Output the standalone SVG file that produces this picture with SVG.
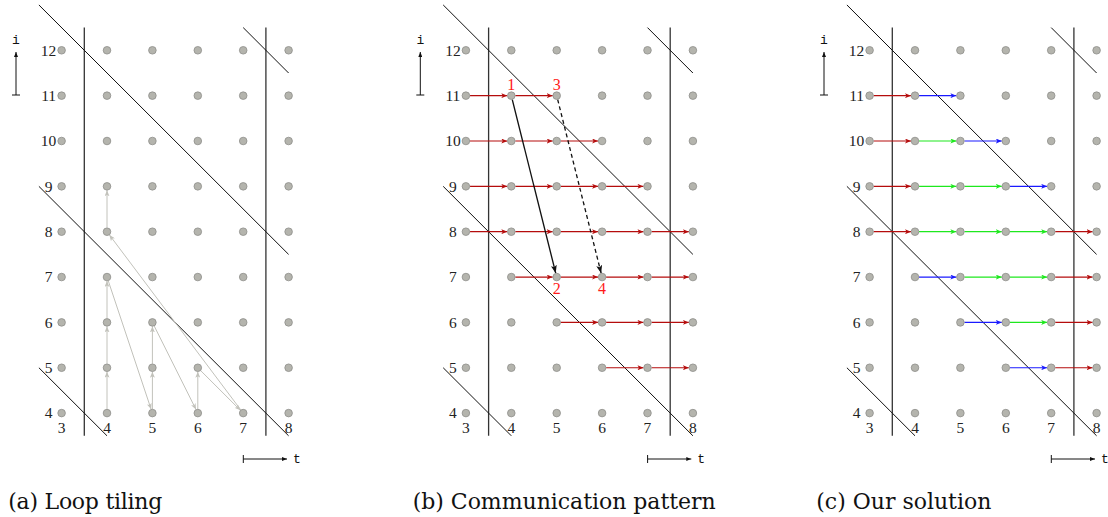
<svg xmlns="http://www.w3.org/2000/svg" xmlns:xlink="http://www.w3.org/1999/xlink" width="1108" height="517" viewBox="0 0 1108 517">
<style>
.dot{fill:#b4b4ad;stroke:#8e8e8a;stroke-width:0.8}
.num{font-family:"Liberation Serif","Times New Roman",serif;font-size:15.5px;fill:#222;text-anchor:middle}
.lab{font-family:"Liberation Serif","Times New Roman",serif;font-size:16px;fill:#ff1a1a;text-anchor:middle}
.mono{font-family:"Liberation Mono","Courier New",monospace;font-size:13px;fill:#111}
.cap{font-family:"DejaVu Serif","Liberation Serif",serif;font-size:22px;fill:#111}
.bnd{stroke:#111;stroke-width:1;fill:none}
.vb{stroke:#333;stroke-width:1.3;fill:none}
.ax{stroke:#111;stroke-width:1;fill:none}
.g{stroke:#c2c2bb;stroke-width:1;fill:none;marker-end:url(#mg)}
.r{stroke:#b50d0d;stroke-width:1.2;fill:none;marker-end:url(#mr)}
.gr{stroke:#1ee81e;stroke-width:1.2;fill:none;marker-end:url(#mgr)}
.bl{stroke:#1a1aff;stroke-width:1.2;fill:none;marker-end:url(#mb)}
.k{stroke:#111;stroke-width:1.3;fill:none;marker-end:url(#mk)}
.kd{stroke:#111;stroke-width:1.3;fill:none;stroke-dasharray:4,3;marker-end:url(#mk)}
</style>
<defs>
<marker id="mg" viewBox="0 0 6 5" refX="6" refY="2.5" markerWidth="6" markerHeight="5" markerUnits="userSpaceOnUse" orient="auto"><path d="M0,0 L6,2.5 L0,5 L1.5,2.5 z" fill="#c2c2bb"/></marker>
<marker id="mr" viewBox="0 0 6 5" refX="6" refY="2.5" markerWidth="6" markerHeight="5" markerUnits="userSpaceOnUse" orient="auto"><path d="M0,0 L6,2.5 L0,5 L1.5,2.5 z" fill="#b50d0d"/></marker>
<marker id="mgr" viewBox="0 0 6 5" refX="6" refY="2.5" markerWidth="6" markerHeight="5" markerUnits="userSpaceOnUse" orient="auto"><path d="M0,0 L6,2.5 L0,5 L1.5,2.5 z" fill="#1ee81e"/></marker>
<marker id="mb" viewBox="0 0 6 5" refX="6" refY="2.5" markerWidth="6" markerHeight="5" markerUnits="userSpaceOnUse" orient="auto"><path d="M0,0 L6,2.5 L0,5 L1.5,2.5 z" fill="#1a1aff"/></marker>
<marker id="mk" viewBox="0 0 8 6" refX="8" refY="3" markerWidth="8" markerHeight="6" markerUnits="userSpaceOnUse" orient="auto"><path d="M0,0 L8,3 L0,6 L2,3 z" fill="#111"/></marker>
<marker id="ma" viewBox="0 0 5 4" refX="5" refY="2" markerWidth="5" markerHeight="4" markerUnits="userSpaceOnUse" orient="auto"><path d="M0,0 L5,2 L0,4 z" fill="#111"/></marker>
<g id="frame">
<line class="vb" x1="84.3" y1="27.6" x2="84.3" y2="435.8"/>
<line class="vb" x1="265.9" y1="27.6" x2="265.9" y2="435.8"/>
<line class="bnd" x1="38.9" y1="4.95" x2="288.6" y2="254.4"/>
<line class="bnd" x1="38.9" y1="186.35" x2="288.6" y2="435.8"/>
<line class="bnd" x1="38.9" y1="367.75" x2="107" y2="435.8"/>
<line class="bnd" x1="243.2" y1="27.6" x2="288.6" y2="73"/>
<line class="ax" x1="16" y1="95" x2="16" y2="52" marker-end="url(#ma)"/>
<line class="ax" x1="12" y1="95" x2="20" y2="95"/>
<text class="mono" x="16" y="44" text-anchor="middle">i</text>
<line class="ax" x1="243.3" y1="459" x2="287" y2="459" marker-end="url(#ma)"/>
<line class="ax" x1="243.3" y1="455" x2="243.3" y2="463"/>
<text class="mono" x="293" y="463">t</text>
<text class="num" x="48.6" y="55.6">12</text>
<text class="num" x="48.6" y="101">11</text>
<text class="num" x="48.6" y="146.3">10</text>
<text class="num" x="48.6" y="191.6">9</text>
<text class="num" x="48.6" y="237">8</text>
<text class="num" x="48.6" y="282.3">7</text>
<text class="num" x="48.6" y="327.7">6</text>
<text class="num" x="48.6" y="373">5</text>
<text class="num" x="48.6" y="418.4">4</text>
<text class="num" x="61.6" y="432.6">3</text>
<text class="num" x="107" y="432.6">4</text>
<text class="num" x="152.4" y="432.6">5</text>
<text class="num" x="197.8" y="432.6">6</text>
<text class="num" x="243.2" y="432.6">7</text>
<text class="num" x="288.6" y="432.6">8</text>
</g>
<g id="dots">
<circle class="dot" cx="61.6" cy="50.3" r="3.8"/><circle class="dot" cx="107" cy="50.3" r="3.8"/><circle class="dot" cx="152.4" cy="50.3" r="3.8"/><circle class="dot" cx="197.8" cy="50.3" r="3.8"/><circle class="dot" cx="243.2" cy="50.3" r="3.8"/><circle class="dot" cx="288.6" cy="50.3" r="3.8"/>
<circle class="dot" cx="61.6" cy="95.65" r="3.8"/><circle class="dot" cx="107" cy="95.65" r="3.8"/><circle class="dot" cx="152.4" cy="95.65" r="3.8"/><circle class="dot" cx="197.8" cy="95.65" r="3.8"/><circle class="dot" cx="243.2" cy="95.65" r="3.8"/><circle class="dot" cx="288.6" cy="95.65" r="3.8"/>
<circle class="dot" cx="61.6" cy="141" r="3.8"/><circle class="dot" cx="107" cy="141" r="3.8"/><circle class="dot" cx="152.4" cy="141" r="3.8"/><circle class="dot" cx="197.8" cy="141" r="3.8"/><circle class="dot" cx="243.2" cy="141" r="3.8"/><circle class="dot" cx="288.6" cy="141" r="3.8"/>
<circle class="dot" cx="61.6" cy="186.35" r="3.8"/><circle class="dot" cx="107" cy="186.35" r="3.8"/><circle class="dot" cx="152.4" cy="186.35" r="3.8"/><circle class="dot" cx="197.8" cy="186.35" r="3.8"/><circle class="dot" cx="243.2" cy="186.35" r="3.8"/><circle class="dot" cx="288.6" cy="186.35" r="3.8"/>
<circle class="dot" cx="61.6" cy="231.7" r="3.8"/><circle class="dot" cx="107" cy="231.7" r="3.8"/><circle class="dot" cx="152.4" cy="231.7" r="3.8"/><circle class="dot" cx="197.8" cy="231.7" r="3.8"/><circle class="dot" cx="243.2" cy="231.7" r="3.8"/><circle class="dot" cx="288.6" cy="231.7" r="3.8"/>
<circle class="dot" cx="61.6" cy="277.05" r="3.8"/><circle class="dot" cx="107" cy="277.05" r="3.8"/><circle class="dot" cx="152.4" cy="277.05" r="3.8"/><circle class="dot" cx="197.8" cy="277.05" r="3.8"/><circle class="dot" cx="243.2" cy="277.05" r="3.8"/><circle class="dot" cx="288.6" cy="277.05" r="3.8"/>
<circle class="dot" cx="61.6" cy="322.4" r="3.8"/><circle class="dot" cx="107" cy="322.4" r="3.8"/><circle class="dot" cx="152.4" cy="322.4" r="3.8"/><circle class="dot" cx="197.8" cy="322.4" r="3.8"/><circle class="dot" cx="243.2" cy="322.4" r="3.8"/><circle class="dot" cx="288.6" cy="322.4" r="3.8"/>
<circle class="dot" cx="61.6" cy="367.75" r="3.8"/><circle class="dot" cx="107" cy="367.75" r="3.8"/><circle class="dot" cx="152.4" cy="367.75" r="3.8"/><circle class="dot" cx="197.8" cy="367.75" r="3.8"/><circle class="dot" cx="243.2" cy="367.75" r="3.8"/><circle class="dot" cx="288.6" cy="367.75" r="3.8"/>
<circle class="dot" cx="61.6" cy="413.1" r="3.8"/><circle class="dot" cx="107" cy="413.1" r="3.8"/><circle class="dot" cx="152.4" cy="413.1" r="3.8"/><circle class="dot" cx="197.8" cy="413.1" r="3.8"/><circle class="dot" cx="243.2" cy="413.1" r="3.8"/><circle class="dot" cx="288.6" cy="413.1" r="3.8"/>
</g>
</defs>

<g id="panel-a">
<use xlink:href="#frame"/>
<g id="connectors-a">
<line class="g" x1="107" y1="409.1" x2="107" y2="371.75"/>
<line class="g" x1="107" y1="363.75" x2="107" y2="326.4"/>
<line class="g" x1="107" y1="318.4" x2="107" y2="281.05"/>
<line class="g" x1="108.27" y1="280.84" x2="151.13" y2="409.3"/>
<line class="g" x1="152.4" y1="409.1" x2="152.4" y2="371.75"/>
<line class="g" x1="152.4" y1="363.75" x2="152.4" y2="326.4"/>
<line class="g" x1="154.19" y1="325.98" x2="196.01" y2="409.52"/>
<line class="g" x1="197.8" y1="409.1" x2="197.8" y2="371.75"/>
<line class="g" x1="200.63" y1="370.58" x2="240.37" y2="410.27"/>
<line class="g" x1="240.8" y1="409.9" x2="109.4" y2="234.9"/>
<line class="g" x1="107" y1="227.7" x2="107" y2="190.35"/>
</g>
<g id="nodes-a"><use xlink:href="#dots"/></g>
<text class="cap" x="8.3" y="509" textLength="154">(a) Loop tiling</text>
</g>

<g id="panel-b" transform="translate(404.3,0)">
<use xlink:href="#frame"/>
<g id="connectors-b">
<line class="r" x1="65.6" y1="95.65" x2="103" y2="95.65"/><line class="r" x1="111" y1="95.65" x2="148.4" y2="95.65"/>
<line class="r" x1="65.6" y1="141" x2="103" y2="141"/><line class="r" x1="111" y1="141" x2="148.4" y2="141"/><line class="r" x1="156.4" y1="141" x2="193.8" y2="141"/>
<line class="r" x1="65.6" y1="186.35" x2="103" y2="186.35"/><line class="r" x1="111" y1="186.35" x2="148.4" y2="186.35"/><line class="r" x1="156.4" y1="186.35" x2="193.8" y2="186.35"/><line class="r" x1="201.8" y1="186.35" x2="239.2" y2="186.35"/>
<line class="r" x1="65.6" y1="231.7" x2="103" y2="231.7"/><line class="r" x1="111" y1="231.7" x2="148.4" y2="231.7"/><line class="r" x1="156.4" y1="231.7" x2="193.8" y2="231.7"/><line class="r" x1="201.8" y1="231.7" x2="239.2" y2="231.7"/><line class="r" x1="247.2" y1="231.7" x2="284.6" y2="231.7"/>
<line class="r" x1="111" y1="277.05" x2="148.4" y2="277.05"/><line class="r" x1="156.4" y1="277.05" x2="193.8" y2="277.05"/><line class="r" x1="201.8" y1="277.05" x2="239.2" y2="277.05"/><line class="r" x1="247.2" y1="277.05" x2="284.6" y2="277.05"/>
<line class="r" x1="156.4" y1="322.4" x2="193.8" y2="322.4"/><line class="r" x1="201.8" y1="322.4" x2="239.2" y2="322.4"/><line class="r" x1="247.2" y1="322.4" x2="284.6" y2="322.4"/>
<line class="r" x1="201.8" y1="367.75" x2="239.2" y2="367.75"/><line class="r" x1="247.2" y1="367.75" x2="284.6" y2="367.75"/>
<line class="k" x1="107.97" y1="99.53" x2="151.43" y2="273.17"/>
<line class="kd" x1="153.37" y1="99.53" x2="196.83" y2="273.17"/>
</g>
<g id="nodes-b"><use xlink:href="#dots"/></g>
<g id="labels-b">
<text class="lab" x="107" y="90">1</text>
<text class="lab" x="152.4" y="90">3</text>
<text class="lab" x="152.4" y="294">2</text>
<text class="lab" x="197.8" y="294">4</text>
</g>
<text class="cap" x="8.4" y="509" textLength="303">(b) Communication pattern</text>
</g>

<g id="panel-c" transform="translate(808,0)">
<use xlink:href="#frame"/>
<g id="connectors-c">
<line class="r" x1="65.6" y1="95.65" x2="103" y2="95.65"/><line class="bl" x1="111" y1="95.65" x2="148.4" y2="95.65"/>
<line class="r" x1="65.6" y1="141" x2="103" y2="141"/><line class="gr" x1="111" y1="141" x2="148.4" y2="141"/><line class="bl" x1="156.4" y1="141" x2="193.8" y2="141"/>
<line class="r" x1="65.6" y1="186.35" x2="103" y2="186.35"/><line class="gr" x1="111" y1="186.35" x2="148.4" y2="186.35"/><line class="gr" x1="156.4" y1="186.35" x2="193.8" y2="186.35"/><line class="bl" x1="201.8" y1="186.35" x2="239.2" y2="186.35"/>
<line class="r" x1="65.6" y1="231.7" x2="103" y2="231.7"/><line class="gr" x1="111" y1="231.7" x2="148.4" y2="231.7"/><line class="gr" x1="156.4" y1="231.7" x2="193.8" y2="231.7"/><line class="gr" x1="201.8" y1="231.7" x2="239.2" y2="231.7"/><line class="r" x1="247.2" y1="231.7" x2="284.6" y2="231.7"/>
<line class="bl" x1="111" y1="277.05" x2="148.4" y2="277.05"/><line class="gr" x1="156.4" y1="277.05" x2="193.8" y2="277.05"/><line class="gr" x1="201.8" y1="277.05" x2="239.2" y2="277.05"/><line class="r" x1="247.2" y1="277.05" x2="284.6" y2="277.05"/>
<line class="bl" x1="156.4" y1="322.4" x2="193.8" y2="322.4"/><line class="gr" x1="201.8" y1="322.4" x2="239.2" y2="322.4"/><line class="r" x1="247.2" y1="322.4" x2="284.6" y2="322.4"/>
<line class="bl" x1="201.8" y1="367.75" x2="239.2" y2="367.75"/><line class="r" x1="247.2" y1="367.75" x2="284.6" y2="367.75"/>
</g>
<g id="nodes-c"><use xlink:href="#dots"/></g>
<text class="cap" x="8.3" y="509" textLength="175">(c) Our solution</text>
</g>
</svg>
